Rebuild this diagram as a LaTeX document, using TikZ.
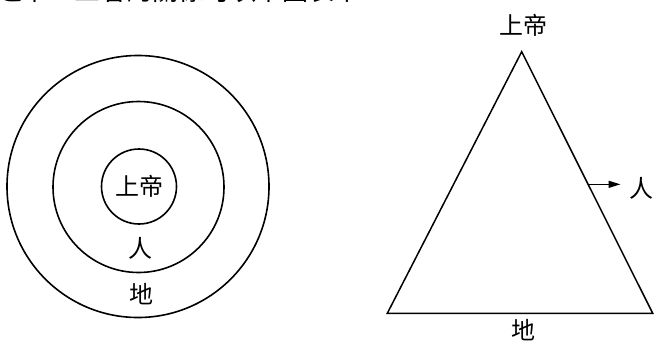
\documentclass[tikz,border=0pt]{standalone}
\usepackage{fontspec}
\setmainfont{Noto Sans CJK TC}
\usetikzlibrary{positioning,calc,arrows.meta}
\tikzset{
  ring/.style={draw,circle,line width=1.6pt,inner sep=0pt},
  lbl/.style={inner sep=0pt,font=\fontsize{24pt}{24pt}\selectfont},
  edge/.style={line width=1.5pt,line join=miter},
  arr/.style={-{Triangle[length=12pt,width=7pt]},line width=1.3pt},
}

\begin{document}
\begin{tikzpicture}[x=1pt,y=-1pt]
  \fill[white] (0,0) rectangle (655,351);
  \useasboundingbox (0,0) rectangle (655,351);
  % caption line, cut at the top
  \node[anchor=base west,inner sep=0pt,font=\fontsize{26pt}{26pt}\selectfont]
    (cap) at (-4,0) {之下，三者的關係可以下圖表示：};
  % circles
  \node[ring,minimum size=262pt] (earth) at (138,186.5) {};
  \node[ring,minimum size=171pt] (man) at (138.5,187) {};
  \node[ring,minimum size=75pt,font=\fontsize{24pt}{24pt}\selectfont] (god) at (139,186.5) {上帝};
  \node[lbl] (manL) at (140,248) {人};
  \node[lbl] (earthL) at (141.5,294) {地};
  % triangle
  \coordinate (apex) at (521.7,51.7);
  \coordinate (bl) at (387.3,313.3);
  \coordinate (br) at (652.7,313.3);
  \draw[edge] (apex) -- (br) -- (bl) -- cycle;
  \node[lbl] (godT) at (523.3,25) {上帝};
  \node[lbl] (earthT) at (523.3,330) {地};
  \node[lbl] (manT) at (641.7,188) {人};
  \coordinate (side) at ($(apex)!0.507!(br)$);
  \draw[arr,shorten >=9pt] (side) -- (side -| manT.west);
\end{tikzpicture}
\end{document}
